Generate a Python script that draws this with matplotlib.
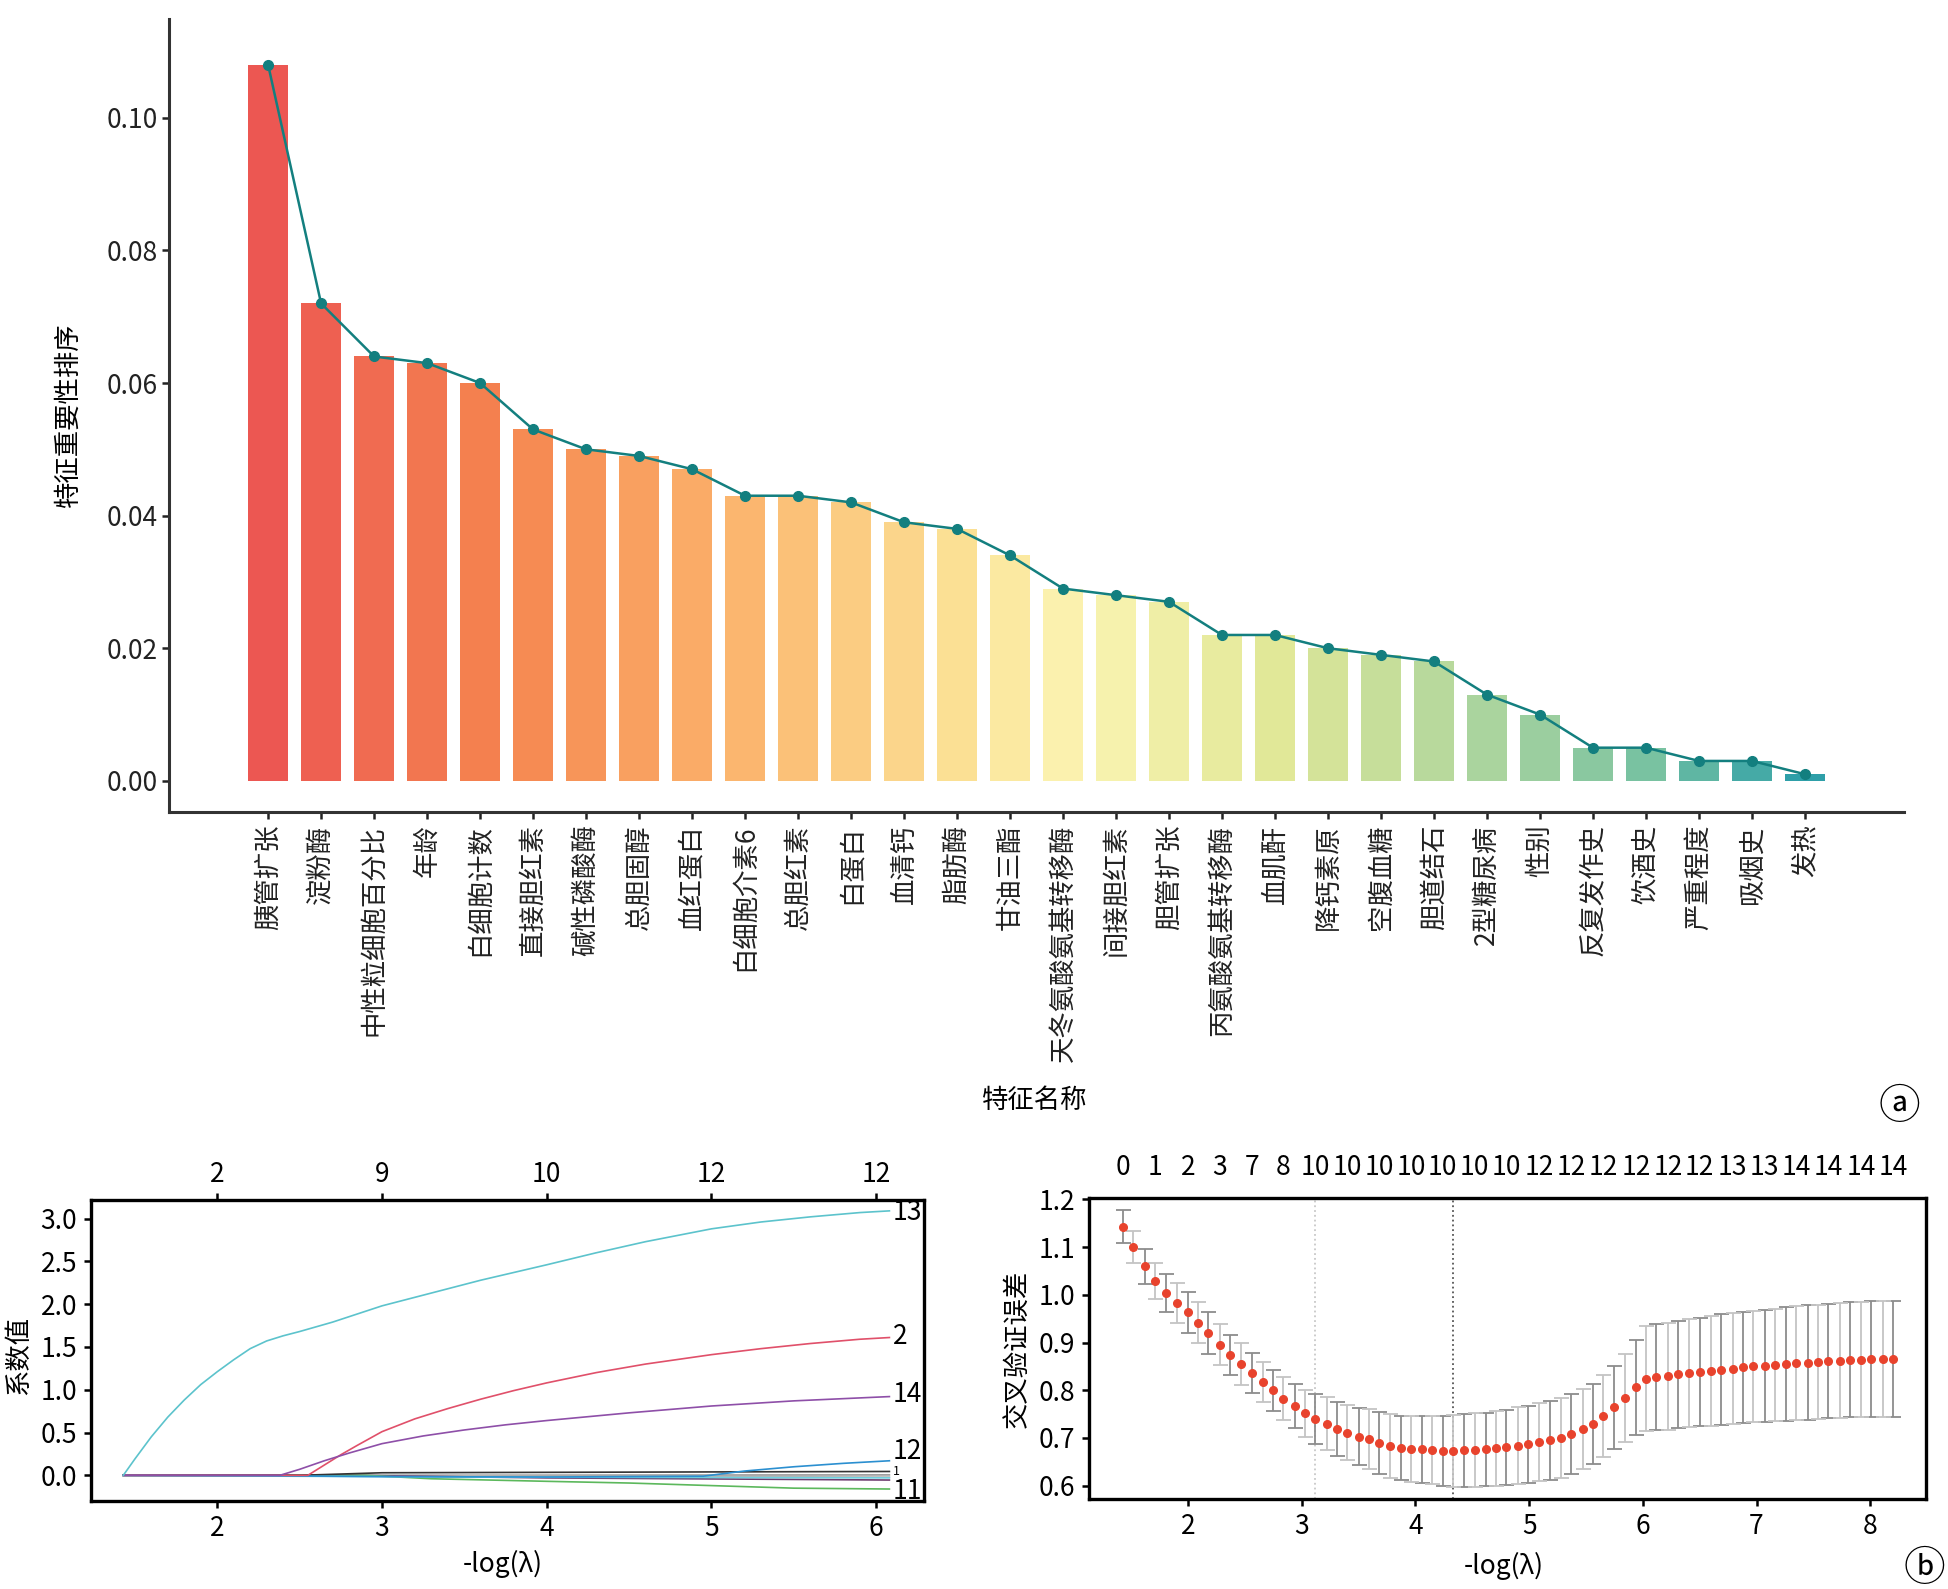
import numpy as np
import matplotlib
matplotlib.use("Agg")
import matplotlib.pyplot as plt
from matplotlib.ticker import FormatStrFormatter
from matplotlib.colors import LinearSegmentedColormap

plt.rcParams['font.family'] = ['Noto Sans CJK SC', 'DejaVu Sans']
plt.rcParams['axes.unicode_minus'] = False

# ---------------- data: feature importance (panel a) ----------------
features = ['胰管扩张', '淀粉酶', '中性粒细胞百分比', '年龄', '白细胞计数', '直接胆红素',
            '碱性磷酸酶', '总胆固醇', '血红蛋白', '白细胞介素6', '总胆红素', '白蛋白',
            '血清钙', '脂肪酶', '甘油三酯', '天冬氨酸氨基转移酶', '间接胆红素', '胆管扩张',
            '丙氨酸氨基转移酶', '血肌酐', '降钙素原', '空腹血糖', '胆道结石', '2型糖尿病',
            '性别', '反复发作史', '饮酒史', '严重程度', '吸烟史', '发热']
importance = [0.108, 0.072, 0.064, 0.063, 0.060, 0.053, 0.050, 0.049, 0.047, 0.043,
              0.043, 0.042, 0.039, 0.038, 0.034, 0.029, 0.028, 0.027, 0.022, 0.022,
              0.020, 0.019, 0.018, 0.013, 0.010, 0.005, 0.005, 0.003, 0.003, 0.001]

# ---------------- data: lasso coefficient paths ----------------
path_cyan_x = [1.43, 1.50, 1.60, 1.70, 1.80, 1.90, 2.00, 2.10, 2.20, 2.30, 2.40, 2.50, 2.70,
               3.00, 3.30, 3.60, 4.00, 4.30, 4.60, 5.00, 5.30, 5.60, 5.90, 6.08]
path_cyan_y = [0.00, 0.19, 0.45, 0.68, 0.88, 1.06, 1.21, 1.35, 1.48, 1.57, 1.63, 1.68, 1.79,
               1.98, 2.13, 2.28, 2.46, 2.60, 2.73, 2.88, 2.96, 3.02, 3.07, 3.09]
path_red_x = [1.43, 2.55, 2.65, 2.75, 2.85, 3.00, 3.20, 3.40, 3.60, 3.80, 4.00, 4.30, 4.60,
              5.00, 5.30, 5.60, 5.90, 6.08]
path_red_y = [0.00, 0.00, 0.12, 0.24, 0.35, 0.51, 0.66, 0.78, 0.89, 0.99, 1.08, 1.20, 1.30,
              1.41, 1.48, 1.54, 1.59, 1.61]
path_purple_x = [1.43, 2.38, 2.50, 2.65, 2.80, 3.00, 3.25, 3.50, 3.75, 4.00, 4.50, 5.00, 5.50, 6.08]
path_purple_y = [0.00, 0.00, 0.07, 0.17, 0.26, 0.37, 0.46, 0.53, 0.59, 0.64, 0.73, 0.81, 0.87, 0.92]
path_blue_x = [1.43, 2.30, 3.00, 4.00, 4.95, 5.20, 5.50, 5.80, 6.08]
path_blue_y = [0.00, -0.005, -0.015, -0.02, -0.01, 0.05, 0.10, 0.14, 0.17]
path_black_x = [1.43, 2.50, 3.00, 6.08]
path_black_y = [0.00, 0.00, 0.03, 0.045]
path_gray_x = [1.43, 2.60, 6.08]
path_gray_y = [0.00, 0.00, 0.005]
path_gray2_x = [1.43, 2.80, 4.00, 6.08]
path_gray2_y = [0.00, 0.00, -0.01, -0.02]
path_plum_x = [1.43, 2.80, 4.00, 6.08]
path_plum_y = [0.00, 0.00, -0.03, -0.055]
path_green_x = [1.43, 2.90, 3.30, 4.00, 4.50, 5.00, 5.50, 6.08]
path_green_y = [0.00, 0.00, -0.04, -0.07, -0.09, -0.12, -0.15, -0.16]
path_lcyan_x = [1.43, 2.40, 3.50, 6.08]
path_lcyan_y = [0.00, -0.01, -0.02, -0.03]
path_end_labels = ['13', '2', '14', '12', '1', '11']
path_end_label_y = [3.07, 1.62, 0.95, 0.28, 0.04, -0.19]
path_end_label_size = [19, 19, 19, 19, 9, 19]
path_top_ticks = [2, 3, 4, 5, 6]
path_top_labels = ['2', '9', '10', '12', '12']

# ---------------- data: cross-validation curve ----------------
cv_x = [1.43, 1.52, 1.62, 1.71, 1.81, 1.90, 2.00, 2.09, 2.18, 2.28,
        2.37, 2.47, 2.56, 2.66, 2.75, 2.84, 2.94, 3.03, 3.12, 3.22,
        3.31, 3.40, 3.50, 3.59, 3.68, 3.78, 3.87, 3.96, 4.06, 4.15,
        4.24, 4.33, 4.43, 4.52, 4.62, 4.71, 4.80, 4.90, 4.99, 5.09,
        5.18, 5.28, 5.37, 5.47, 5.56, 5.65, 5.75, 5.84, 5.94, 6.03,
        6.12, 6.22, 6.31, 6.41, 6.50, 6.60, 6.69, 6.79, 6.88, 6.97,
        7.07, 7.16, 7.26, 7.35, 7.45, 7.54, 7.63, 7.73, 7.82, 7.92,
        8.01, 8.11, 8.20]
cv_mean = [1.143, 1.100, 1.060, 1.029, 1.004, 0.983, 0.963, 0.941, 0.919, 0.895,
           0.873, 0.855, 0.836, 0.817, 0.800, 0.782, 0.767, 0.752, 0.740, 0.730,
           0.719, 0.711, 0.703, 0.697, 0.689, 0.684, 0.679, 0.677, 0.676, 0.675,
           0.673, 0.673, 0.674, 0.675, 0.676, 0.678, 0.680, 0.684, 0.687, 0.691,
           0.695, 0.700, 0.709, 0.719, 0.730, 0.746, 0.764, 0.784, 0.806, 0.824,
           0.827, 0.829, 0.833, 0.836, 0.838, 0.841, 0.843, 0.845, 0.848, 0.850,
           0.851, 0.853, 0.855, 0.857, 0.858, 0.859, 0.861, 0.862, 0.864, 0.864,
           0.865, 0.866, 0.866]
cv_se = [0.034, 0.034, 0.037, 0.038, 0.040, 0.041, 0.042, 0.043, 0.044, 0.043,
         0.042, 0.043, 0.042, 0.042, 0.043, 0.045, 0.046, 0.049, 0.052, 0.056,
         0.056, 0.058, 0.060, 0.063, 0.065, 0.067, 0.068, 0.070, 0.071, 0.072,
         0.074, 0.075, 0.076, 0.077, 0.077, 0.078, 0.079, 0.080, 0.081, 0.082,
         0.083, 0.083, 0.084, 0.084, 0.084, 0.085, 0.087, 0.093, 0.100, 0.110,
         0.111, 0.112, 0.113, 0.114, 0.114, 0.115, 0.116, 0.116, 0.117, 0.117,
         0.118, 0.118, 0.119, 0.119, 0.120, 0.120, 0.120, 0.121, 0.121, 0.121,
         0.122, 0.122, 0.122]
cv_top_labels = ['0', '1', '2', '3', '7', '8', '10', '10', '10', '10', '10', '10', '10',
                 '12', '12', '12', '12', '12', '12', '13', '13', '14', '14', '14', '14']
idx_1se = 18
idx_min = 31

# bar palette anchors
bar_palette = ['#ec5752', '#f5844f', '#fbb36c', '#fbe195', '#fbf4b2',
               '#e0e797', '#a8d39e', '#78c2a1', '#2e9fa8']
bar_palette_pos = [0.0, 0.15, 0.30, 0.45, 0.53, 0.66, 0.80, 0.90, 1.0]

FS = 19
W, H = 1949, 1589
fig = plt.figure(figsize=(W / 100, H / 100), dpi=100)


def box(l, t, r, b):
    return [l / W, 1 - b / H, (r - l) / W, (b - t) / H]


# ================= panel a =================
ax = fig.add_axes(box(169, 19, 1904, 812))
n = len(features)
xs = np.arange(n)
cmap = LinearSegmentedColormap.from_list('bars', list(zip(bar_palette_pos, bar_palette)))
colors = cmap(np.linspace(0, 1, n))
ax.bar(xs, importance, width=0.75, color=colors, zorder=1)
ax.plot(xs, importance, color='#137f7f', lw=1.8, marker='o', ms=7, zorder=3)
ax.set_xlim(-1.87, n - 1 + 1.87)
ax.set_ylim(-0.0047, 0.1149)
ax.set_yticks([0.0, 0.02, 0.04, 0.06, 0.08, 0.10])
ax.yaxis.set_major_formatter(FormatStrFormatter('%.2f'))
ax.set_xticks(xs)
ax.set_xticklabels(features, rotation=90, fontsize=FS, va='top', ha='center')
ax.tick_params(axis='y', labelsize=FS, length=5, width=1.8, pad=3, colors='#222222')
ax.tick_params(axis='x', length=5, width=1.8, pad=4, colors='#222222')
for s in ['top', 'right']:
    ax.spines[s].set_visible(False)
for s in ['left', 'bottom']:
    ax.spines[s].set_linewidth(2.2)
    ax.spines[s].set_color('#333333')
fig.text(68 / W, 1 - 415 / H, '特征重要性排序', rotation=90, fontsize=FS, ha='center', va='center')
fig.text(1035 / W, 1 - 1100 / H, '特征名称', fontsize=FS, ha='center', va='center')
fig.text(1899 / W, 1 - 1107 / H, 'ⓐ', fontsize=30, ha='center', va='center',
         family=['DejaVu Sans', 'Noto Sans CJK SC'])

# ================= panel b left: coefficient paths =================
ax1 = fig.add_axes(box(91, 1200, 924, 1501))
lw = 1.2
ax1.plot(path_gray_x, path_gray_y, color='#9a9a9a', lw=lw)
ax1.plot(path_gray2_x, path_gray2_y, color='#b5b5b5', lw=lw)
ax1.plot(path_plum_x, path_plum_y, color='#6d3a6d', lw=lw)
ax1.plot(path_green_x, path_green_y, color='#5cb85c', lw=lw)
ax1.plot(path_lcyan_x, path_lcyan_y, color='#6fd0de', lw=lw)
ax1.plot(path_black_x, path_black_y, color='#333333', lw=lw)
ax1.plot(path_blue_x, path_blue_y, color='#2b8fd0', lw=lw)
ax1.plot(path_red_x, path_red_y, color='#e0506a', lw=lw)
ax1.plot(path_purple_x, path_purple_y, color='#8e4fa8', lw=lw)
ax1.plot(path_cyan_x, path_cyan_y, color='#5cc3cc', lw=lw)
for lab, yv, fs in zip(path_end_labels, path_end_label_y, path_end_label_size):
    ax1.text(6.1, yv, lab, fontsize=fs, ha='left', va='center', clip_on=False)
ax1.set_xlim(1.234, 6.29)
ax1.set_ylim(-0.30, 3.217)
ax1.set_xticks([2, 3, 4, 5, 6])
ax1.set_yticks([0.0, 0.5, 1.0, 1.5, 2.0, 2.5, 3.0])
ax1.yaxis.set_major_formatter(FormatStrFormatter('%.1f'))
ax1.tick_params(labelsize=FS, length=5, width=1.8, pad=5)
for s in ax1.spines.values():
    s.set_linewidth(2.4)
top1 = ax1.twiny()
top1.set_xlim(ax1.get_xlim())
top1.set_xticks(path_top_ticks)
top1.set_xticklabels(path_top_labels)
top1.tick_params(labelsize=FS, length=5, width=1.8, pad=4)
fig.text(503 / W, 1 - 1564 / H, '-log(λ)', fontsize=FS, ha='center', va='center')
fig.text(19 / W, 1 - 1355 / H, '系数值', rotation=90, fontsize=FS, ha='center', va='center')

# ================= panel b right: cross-validation =================
ax2 = fig.add_axes(box(1089, 1198, 1926, 1499))
cx = np.array(cv_x)
cm = np.array(cv_mean)
cs = np.array(cv_se)
ax2.axvline(cv_x[idx_1se], color='#c8c8c8', ls=':', lw=1.3, zorder=0)
ax2.axvline(cv_x[idx_min], color='#555555', ls=':', lw=1.3, zorder=0)
ax2.errorbar(cx[0::2], cm[0::2], yerr=cs[0::2], fmt='none', ecolor='#8c8c8c',
             elinewidth=1.3, capsize=5.4, capthick=1.3, zorder=1)
ax2.errorbar(cx[1::2], cm[1::2], yerr=cs[1::2], fmt='none', ecolor='#c4c4c4',
             elinewidth=1.3, capsize=5.4, capthick=1.3, zorder=1)
ax2.plot(cx, cm, 'o', color='#e8432d', ms=5.5, zorder=3)
ax2.set_xlim(1.13, 8.49)
ax2.set_ylim(0.572, 1.203)
ax2.set_xticks([2, 3, 4, 5, 6, 7, 8])
ax2.set_yticks([0.6, 0.7, 0.8, 0.9, 1.0, 1.1, 1.2])
ax2.yaxis.set_major_formatter(FormatStrFormatter('%.1f'))
ax2.tick_params(labelsize=FS, length=5, width=1.8, pad=5)
for s in ax2.spines.values():
    s.set_linewidth(2.4)
top2 = ax2.twiny()
top2.set_xlim(ax2.get_xlim())
top2.set_xticks(cv_x[0::3])
top2.set_xticklabels(cv_top_labels)
top2.tick_params(labelsize=FS, length=0, pad=12)
fig.text(1504 / W, 1 - 1566 / H, '-log(λ)', fontsize=FS, ha='center', va='center')
fig.text(1017 / W, 1 - 1349 / H, '交叉验证误差', rotation=90, fontsize=FS, ha='center', va='center')
fig.text(1924 / W, 1 - 1569 / H, 'ⓑ', fontsize=30, ha='center', va='center',
         family=['DejaVu Sans', 'Noto Sans CJK SC'])

fig.savefig('out.png', dpi=100)
